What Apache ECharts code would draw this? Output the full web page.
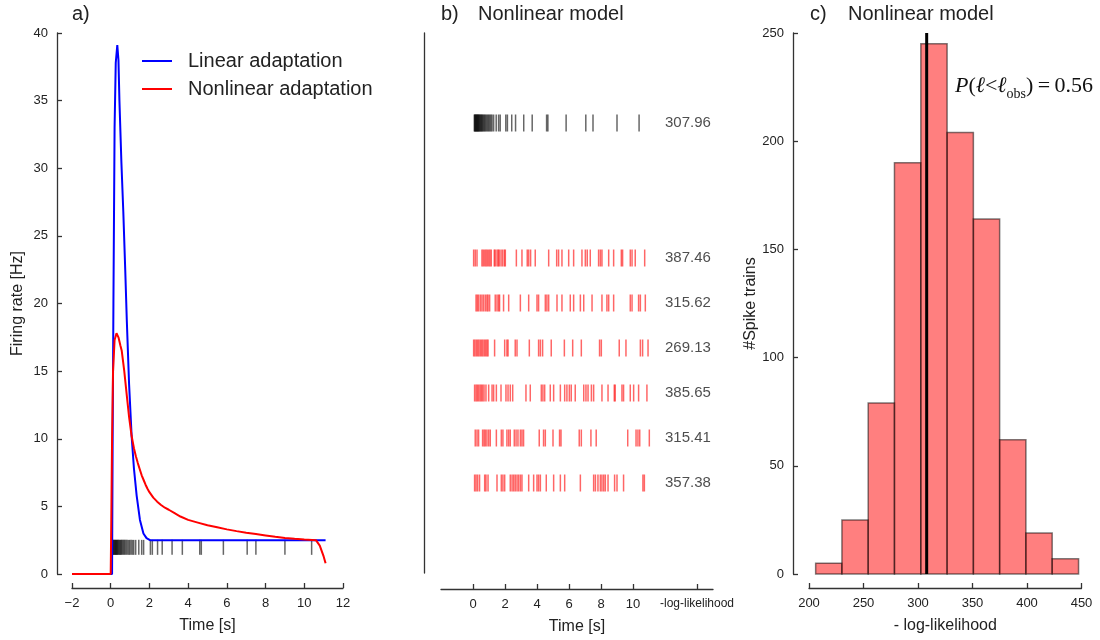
<!DOCTYPE html>
<html>
<head>
<meta charset="utf-8">
<script src="https://cdn.jsdelivr.net/npm/echarts@6/dist/echarts.min.js"></script>
<style>
  html, body { margin: 0; padding: 0; background: #fff; }
  #chart { width: 1100px; height: 640px; }
</style>
</head>
<body>
<div id="chart"></div>
<script>
// ---- panel a: firing rate [time s, rate Hz] ----
const linearRate = [
  [-2, 0], [0.07, 0], [0.1, 10], [0.14, 20], [0.2, 33], [0.26, 37.8], [0.34, 39.1],
  [0.4, 38], [0.45, 35], [0.55, 30.5], [0.65, 26.8], [0.75, 22.5], [0.83, 18.8],
  [0.95, 14], [1.08, 10.2], [1.2, 7.8], [1.34, 5.8], [1.51, 4.0], [1.69, 3.0],
  [1.85, 2.65], [2.03, 2.5], [11.1, 2.5]
];
const nonlinearRate = [
  [-2, 0], [0, 0], [0.03, 4], [0.07, 10], [0.12, 15], [0.2, 17.3], [0.3, 17.8],
  [0.4, 17.5], [0.5, 16.9], [0.57, 16.5], [0.7, 15], [0.83, 13.2], [0.95, 11.6],
  [1.08, 10.2], [1.2, 9.3], [1.3, 8.7], [1.4, 8.2], [1.5, 7.75], [1.6, 7.3], [1.7, 6.95],
  [1.8, 6.6], [1.9, 6.3], [2.0, 6.05], [2.2, 5.65], [2.4, 5.35], [2.6, 5.1], [2.8, 4.9],
  [3.0, 4.75], [3.3, 4.5], [3.6, 4.25], [4, 4.0], [4.5, 3.8], [5, 3.6], [5.5, 3.45],
  [6, 3.3], [6.5, 3.17], [7, 3.05], [7.5, 2.95], [8, 2.85], [8.5, 2.75], [9, 2.66],
  [9.5, 2.6], [10, 2.55], [10.6, 2.5], [10.8, 2.1], [11.0, 1.3], [11.1, 0.8]
];
// observed spike train (seconds)
const observedSpikes = [
  0.08, 0.11, 0.14, 0.17, 0.2, 0.23, 0.26, 0.29, 0.32, 0.35, 0.38, 0.42, 0.46, 0.5,
  0.54, 0.58, 0.63, 0.68, 0.73, 0.79, 0.85, 0.92, 0.98, 1.05, 1.12, 1.19, 1.29, 1.45,
  1.6, 1.7, 2.05, 2.15, 2.42, 2.66, 3.17, 3.7, 4.6, 4.68, 5.82, 7.05, 7.5, 9.0, 10.38
];

// ---- panel b: simulated spike trains (nonlinear model) ----
const train1 = [0.04, 0.14, 0.25, 0.56, 0.64, 0.73, 0.81, 0.89, 0.98, 1.06, 1.14, 1.33, 1.39, 1.5,
  1.58, 1.64, 1.75, 1.85, 1.96, 2.02, 2.71, 3.06, 3.39, 3.48, 3.6, 3.89, 4.73, 5.23, 5.35, 5.56,
  5.98, 6.29, 6.81, 7.02, 7.14, 7.33, 7.85, 7.96, 8.06, 8.48, 8.79, 9.27, 9.35, 9.83, 9.94, 10.14, 10.73];
const train2 = [0.19, 0.27, 0.35, 0.46, 0.56, 0.66, 0.77, 0.87, 0.94, 1.04, 1.39, 1.5, 1.6, 1.66,
  1.91, 2.23, 2.96, 3.48, 4.0, 4.1, 4.52, 4.62, 4.73, 5.25, 5.56, 6.08, 6.29, 6.71, 6.92, 7.44,
  8.06, 8.37, 8.48, 8.79, 9.83, 9.94, 10.35, 10.46, 10.77];
const train3 = [0.04, 0.12, 0.21, 0.29, 0.37, 0.46, 0.54, 0.62, 0.71, 0.79, 0.87, 0.94, 1.35, 1.98,
  2.12, 2.19, 2.64, 2.75, 3.52, 4.1, 4.21, 4.35, 4.89, 5.71, 6.23, 6.77, 7.91, 8.02, 9.14, 9.56,
  10.46, 10.6, 10.94];
const train4 = [0.1, 0.19, 0.27, 0.35, 0.44, 0.52, 0.6, 0.69, 0.81, 0.98, 1.19, 1.29, 1.46, 1.75,
  2.06, 2.19, 2.33, 2.48, 3.31, 3.58, 4.27, 4.37, 4.48, 4.83, 5.04, 5.46, 5.73, 5.87, 6.02, 6.14,
  6.39, 6.92, 7.06, 7.19, 7.4, 7.54, 8.06, 8.44, 8.83, 8.89, 9.31, 9.41, 9.83, 10.04, 10.35, 10.87];
const train5 = [0.14, 0.25, 0.35, 0.6, 0.69, 0.77, 0.87, 0.98, 1.08, 1.46, 1.77, 1.87, 2.12, 2.23,
  2.33, 2.58, 2.69, 2.81, 2.96, 3.06, 3.16, 4.14, 4.41, 4.52, 5.0, 5.41, 5.5, 6.64, 6.77, 7.37,
  7.7, 9.67, 10.19, 10.31, 10.42, 11.02];
const train6 = [0.1, 0.19, 0.29, 0.41, 0.73, 0.81, 0.94, 1.5, 1.77, 1.87, 1.98, 2.33, 2.44, 2.54,
  2.64, 2.75, 2.85, 2.96, 3.06, 3.48, 3.79, 4.0, 4.1, 4.21, 4.58, 5.04, 5.46, 5.73, 6.71, 7.54,
  7.65, 7.81, 7.96, 8.06, 8.17, 8.27, 8.44, 8.85, 9.0, 9.41, 10.62, 10.71];
const simulatedTrains = [train1, train2, train3, train4, train5, train6];
const simulatedRows = [6, 5, 4, 3, 2, 1];
const observedRow = 9;
const observedLL = 307.96;
const simulatedLL = [387.46, 315.62, 269.13, 385.65, 315.41, 357.38];
const rasterTicks = [0, 2, 4, 6, 8, 10, 14];

// ---- panel c: histogram of -log-likelihood ----
const binEdges = [206.1, 230.2, 254.3, 278.4, 302.6, 326.7, 350.8, 374.9, 399.0, 423.1, 447.3];
const binCounts = [5, 25, 79, 190, 245, 204, 164, 62, 19, 7];
const pValue = 0.56;

const FONT = 'Liberation Sans, Arial, Helvetica, sans-serif';
const SERIF = 'Liberation Serif, DejaVu Serif, serif';
const TXT = '#222';

const chart = echarts.init(document.getElementById('chart'));

const axisCommon = {
  axisLine: { show: true, onZero: false, lineStyle: { color: '#333', width: 1.3 } },
  axisTick: { show: true, inside: true, length: 5, lineStyle: { color: '#333', width: 1.3 } },
  splitLine: { show: false },
  axisLabel: { fontSize: 13, color: TXT, fontFamily: FONT, margin: 9 },
  nameLocation: 'middle',
  nameTextStyle: { fontSize: 16, color: TXT, fontFamily: FONT }
};
const minus = v => String(v).replace('-', '\u2212');

const rasterSeries = (data, color, size) => ({
  type: 'scatter',
  xAxisIndex: 1, yAxisIndex: 1,
  symbol: 'rect',
  symbolSize: size,
  itemStyle: { color: color },
  silent: true,
  data: data
});

const series = [
  {
    name: 'Linear adaptation', type: 'line', xAxisIndex: 0, yAxisIndex: 0,
    data: linearRate, showSymbol: false, symbol: 'none',
    lineStyle: { color: '#0000ff', width: 2 }, itemStyle: { color: '#0000ff' }
  },
  {
    name: 'Nonlinear adaptation', type: 'line', xAxisIndex: 0, yAxisIndex: 0,
    data: nonlinearRate, showSymbol: false, symbol: 'none',
    lineStyle: { color: '#ff0000', width: 2 }, itemStyle: { color: '#ff0000' }
  },
  {
    type: 'scatter', xAxisIndex: 0, yAxisIndex: 0, symbol: 'rect', symbolSize: [1.5, 15],
    itemStyle: { color: 'rgba(0,0,0,0.75)' }, silent: true,
    data: observedSpikes.map(t => [t, 1.97])
  },
  rasterSeries(observedSpikes.map(t => [t, observedRow]), 'rgba(0,0,0,0.75)', [1.5, 17])
];
simulatedTrains.forEach((tr, i) => {
  series.push(rasterSeries(tr.map(t => [t, simulatedRows[i]]), 'rgba(255,0,0,0.75)', [1.5, 17]));
});
series.push({
  type: 'scatter', xAxisIndex: 1, yAxisIndex: 1, symbolSize: 0, silent: true,
  data: [[12, observedRow, observedLL]].concat(simulatedLL.map((v, i) => [12, simulatedRows[i], v])),
  label: {
    show: true, position: 'right', distance: 0, fontSize: 15, color: TXT, fontFamily: FONT,
    formatter: p => p.value[2].toFixed(2)
  }
});
series.push({
  type: 'custom', xAxisIndex: 2, yAxisIndex: 2, silent: true,
  data: binCounts.map((c, i) => [binEdges[i], binEdges[i + 1], c]),
  encode: { x: [0, 1], y: 2 },
  renderItem: (params, api) => {
    const p0 = api.coord([api.value(0), 0]);
    const p1 = api.coord([api.value(1), api.value(2)]);
    return {
      type: 'rect',
      shape: { x: p0[0], y: p1[1], width: p1[0] - p0[0], height: p0[1] - p1[1] },
      style: { fill: 'rgba(255,0,0,0.5)', stroke: 'rgba(0,0,0,0.5)', lineWidth: 1.5 }
    };
  }
});
series.push({
  type: 'line', xAxisIndex: 2, yAxisIndex: 2, symbol: 'none', silent: true, z: 5,
  data: [[observedLL, 0], [observedLL, 250]],
  lineStyle: { color: '#000', width: 3 }
});

const titleStyle = { fontSize: 20, fontWeight: 'normal', color: TXT, fontFamily: FONT };

chart.setOption({
  animation: false,
  backgroundColor: '#fff',
  title: [
    { text: 'a)', left: 72, top: 4, padding: 0, textStyle: titleStyle },
    { text: 'b)', left: 441, top: 4, padding: 0, textStyle: titleStyle },
    { text: 'Nonlinear model', left: 478, top: 4, padding: 0, textStyle: titleStyle },
    { text: 'c)', left: 810, top: 4, padding: 0, textStyle: titleStyle },
    { text: 'Nonlinear model', left: 848, top: 4, padding: 0, textStyle: titleStyle }
  ],
  legend: {
    data: ['Linear adaptation', 'Nonlinear adaptation'],
    orient: 'vertical', left: 137, top: 46, icon: 'rect',
    itemWidth: 30, itemHeight: 2, itemGap: 8,
    textStyle: { fontSize: 20, color: TXT, fontFamily: FONT, padding: [0, 0, 0, 11] }
  },
  grid: [
    { left: 72, top: 33, width: 271, height: 541 },
    { left: 441, top: 33, width: 272, height: 541 },
    { left: 809, top: 33, width: 272.5, height: 541 }
  ],
  xAxis: [
    Object.assign({}, axisCommon, {
      gridIndex: 0, type: 'value', min: -2, max: 12, interval: 2, offset: 14,
      name: 'Time [s]', nameGap: 30,
      axisLabel: Object.assign({}, axisCommon.axisLabel, { formatter: minus })
    }),
    Object.assign({}, axisCommon, {
      gridIndex: 1, type: 'value', min: -2, max: 15, offset: 16,
      name: 'Time [s]', nameGap: 30,
      axisTick: Object.assign({}, axisCommon.axisTick, { customValues: rasterTicks }),
      axisLabel: Object.assign({}, axisCommon.axisLabel, {
        customValues: rasterTicks,
        formatter: v => (v === 14 ? '{s|-log-likelihood}' : String(v)),
        rich: { s: { fontSize: 12, color: TXT, fontFamily: FONT } }
      })
    }),
    Object.assign({}, axisCommon, {
      gridIndex: 2, type: 'value', min: 200, max: 450, interval: 50, offset: 14,
      name: '- log-likelihood', nameGap: 30
    })
  ],
  yAxis: [
    Object.assign({}, axisCommon, {
      gridIndex: 0, type: 'value', min: 0, max: 40, interval: 5, offset: 15,
      name: 'Firing rate [Hz]', nameGap: 31
    }),
    {
      gridIndex: 1, type: 'value', min: -1, max: 11, offset: 17,
      axisLine: { show: true, onZero: false, lineStyle: { color: '#333', width: 1.3 } },
      axisTick: { show: false }, axisLabel: { show: false }, splitLine: { show: false }
    },
    Object.assign({}, axisCommon, {
      gridIndex: 2, type: 'value', min: 0, max: 250, interval: 50, offset: 16,
      name: '#Spike trains', nameGap: 34
    })
  ],
  graphic: [
    {
      type: 'text', left: 955, top: 75, silent: true,
      style: {
        text: '{i|P}{u|(}{i|\u2113}{u|<}{i|\u2113}{s|obs}{u|)\u2009=\u2009' + pValue.toFixed(2) + '}',
        rich: {
          i: { fontSize: 22, fontStyle: 'italic', fontFamily: SERIF, fill: '#111', lineHeight: 30, verticalAlign: 'middle' },
          u: { fontSize: 22, fontFamily: SERIF, fill: '#111', lineHeight: 30, verticalAlign: 'middle' },
          s: { fontSize: 14, fontFamily: SERIF, fill: '#111', lineHeight: 14, verticalAlign: 'bottom' }
        }
      }
    }
  ],
  series: series
});
</script>
</body>
</html>
